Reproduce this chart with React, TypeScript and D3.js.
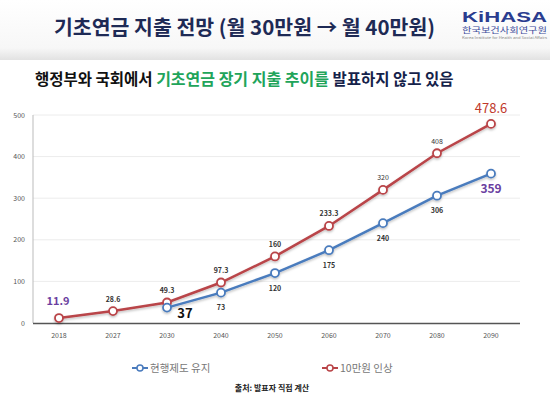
import React from 'react';
import * as d3 from 'd3';

// Data
const years = ['2018', '2027', '2030', '2040', '2050', '2060', '2070', '2080', '2090'];
const raiseValues = [11.9, 28.6, 49.3, 97.3, 160, 233.3, 320, 408, 478.6];
const currentYears = ['2030', '2040', '2050', '2060', '2070', '2080', '2090'];
const currentValues = [37, 73, 120, 175, 240, 306, 359];
const yTicks = [0, 100, 200, 300, 400, 500];
const seriesNames = ['현행제도 유지', '10만원 인상'];

const W = 550;
const H = 394;
const RED = '#b94448';
const BLUE = '#4a7bbd';

const App = () => {
  const x = d3.scaleBand().domain(years).range([32, 518]);
  const y = d3.scaleLinear().domain([0, 500]).range([323, 115]);
  const cx = (yr: string) => (x(yr) as number) + x.bandwidth() / 2;

  const redPts: [number, number][] = years.map((yr, i) => [cx(yr), y(raiseValues[i])]);
  const bluePts: [number, number][] = currentYears.map((yr, i) => [cx(yr), y(currentValues[i])]);
  const lineGen = d3.line();

  // label styles per point (offsets only)
  const redLabel = (i: number) => {
    if (i === 0) return { dx: -1, dy: -17, size: 11, color: '#6a3ea0', weight: 700 };
    if (i === raiseValues.length - 1) return { dx: 0, dy: -15, size: 13, color: '#c0392b', weight: 400 };
    return { dx: 0, dy: -12, size: 7, color: '#333', weight: i > 5 ? 400 : 700 };
  };
  const blueLabel = (i: number) => {
    if (i === 0) return { dx: 18, dy: 5.5, size: 13, color: '#111', weight: 700 };
    if (i === currentValues.length - 1) return { dx: 0, dy: 15, size: 12, color: '#6a3ea0', weight: 700 };
    return { dx: 0, dy: 15, size: 7, color: '#333', weight: 700 };
  };

  return (
    <svg width={W} height={H} style={{ position: 'absolute', left: 0, top: 0, fontFamily: '"Noto Sans CJK KR", "Noto Sans", sans-serif' }}>
      <defs>
        <linearGradient id="hdr" x1="0" y1="0" x2="0" y2="1">
          <stop offset="0" stopColor="#ffffff" />
          <stop offset="0.8" stopColor="#f7f7f7" />
          <stop offset="1" stopColor="#e2e2e2" />
        </linearGradient>
        <filter id="sh" x="-5%" y="-5%" width="110%" height="120%">
          <feDropShadow dx="0" dy="1.5" stdDeviation="1" floodColor="#000" floodOpacity="0.25" />
        </filter>
      </defs>
      <rect x={0} y={0} width={W} height={H} fill="#fff" />
      <rect x={0} y={0} width={W} height={60} fill="url(#hdr)" />
      <text x={244.5} y={35} textAnchor="middle" fontSize={20.5} fontWeight={700} fill="#1e2a55">
        기초연금 지출 전망 (월 30만원 → 월 40만원)
      </text>
      {/* logo */}
      <g>
        <text x={462} y={22} fontSize={15} fontWeight={700} fill="#2a3c8f" fontFamily="Liberation Sans, sans-serif" textLength={85} lengthAdjust="spacingAndGlyphs">
          KiHASA
        </text>
        <text x={462} y={33} fontSize={7.5} fill="#3b4a9a" textLength={85} lengthAdjust="spacingAndGlyphs">
          한국보건사회연구원
        </text>
        <text x={462} y={38.5} fontSize={3} fill="#888" textLength={85} lengthAdjust="spacingAndGlyphs">
          Korea Institute for Health and Social Affairs
        </text>
      </g>

      <text x={35} y={85} fontSize={15.5} fontWeight={700} fill="#111">
        행정부와 국회에서{' '}
        <tspan fill="#21a45a" fontSize={16}>기초연금 장기 지출 추이를</tspan>
        <tspan fill="#15224a"> 발표하지 않고 있음</tspan>
      </text>

      {/* grid */}
      {yTicks.slice(1).map((t) => (
        <line key={t} x1={33} x2={520} y1={y(t)} y2={y(t)} stroke="#ececec" strokeWidth={1} />
      ))}
      {yTicks.map((t) => (
        <text key={'yl' + t} x={25} y={y(t) + 2.5} textAnchor="end" fontSize={7} fill="#555">
          {t}
        </text>
      ))}
      <line x1={33} x2={33} y1={115} y2={323} stroke="#bbb" strokeWidth={1} />
      <line x1={33} x2={520} y1={323.5} y2={323.5} stroke="#555" strokeWidth={1.5} />
      {years.map((yr) => (
        <text key={'xl' + yr} x={cx(yr)} y={338} textAnchor="middle" fontSize={7} fill="#555">
          {yr}
        </text>
      ))}

      {/* lines */}
      <g filter="url(#sh)">
        <path d={lineGen(redPts) || ''} fill="none" stroke={RED} strokeWidth={2.5} />
        <path d={lineGen(bluePts) || ''} fill="none" stroke={BLUE} strokeWidth={2.5} />
        {redPts.map((p, i) => (
          <circle key={'rc' + i} cx={p[0]} cy={p[1]} r={4} fill="#fff" stroke={RED} strokeWidth={1.8} />
        ))}
        {bluePts.map((p, i) => (
          <circle key={'bc' + i} cx={p[0]} cy={p[1]} r={4} fill="#fff" stroke={BLUE} strokeWidth={1.8} />
        ))}
      </g>

      {/* labels */}
      {redPts.map((p, i) => {
        const s = redLabel(i);
        return (
          <text key={'rl' + i} x={p[0] + s.dx} y={p[1] + s.dy + s.size * 0.35} textAnchor="middle" fontSize={s.size} fontWeight={s.weight} fill={s.color}>
            {raiseValues[i]}
          </text>
        );
      })}
      {bluePts.map((p, i) => {
        const s = blueLabel(i);
        return (
          <text key={'bl' + i} x={p[0] + s.dx} y={p[1] + s.dy + s.size * 0.35} textAnchor="middle" fontSize={s.size} fontWeight={s.weight} fill={s.color}>
            {currentValues[i]}
          </text>
        );
      })}

      {/* legend */}
      <g>
        <line x1={132} x2={148} y1={368} y2={368} stroke={BLUE} strokeWidth={2} />
        <circle cx={140} cy={368} r={3} fill="#fff" stroke={BLUE} strokeWidth={1.5} />
        <text x={150} y={371.5} fontSize={10.5} fill="#777">{seriesNames[0]}</text>
        <line x1={322} x2={338} y1={368} y2={368} stroke={RED} strokeWidth={2} />
        <circle cx={330} cy={368} r={3} fill="#fff" stroke={RED} strokeWidth={1.5} />
        <text x={340} y={371.5} fontSize={10.5} fill="#777">{seriesNames[1]}</text>
      </g>
      <text x={272} y={391} textAnchor="middle" fontSize={8} fontWeight={700} fill="#222">
        출처: 발표자 직접 계산
      </text>
    </svg>
  );
};

export default App;
